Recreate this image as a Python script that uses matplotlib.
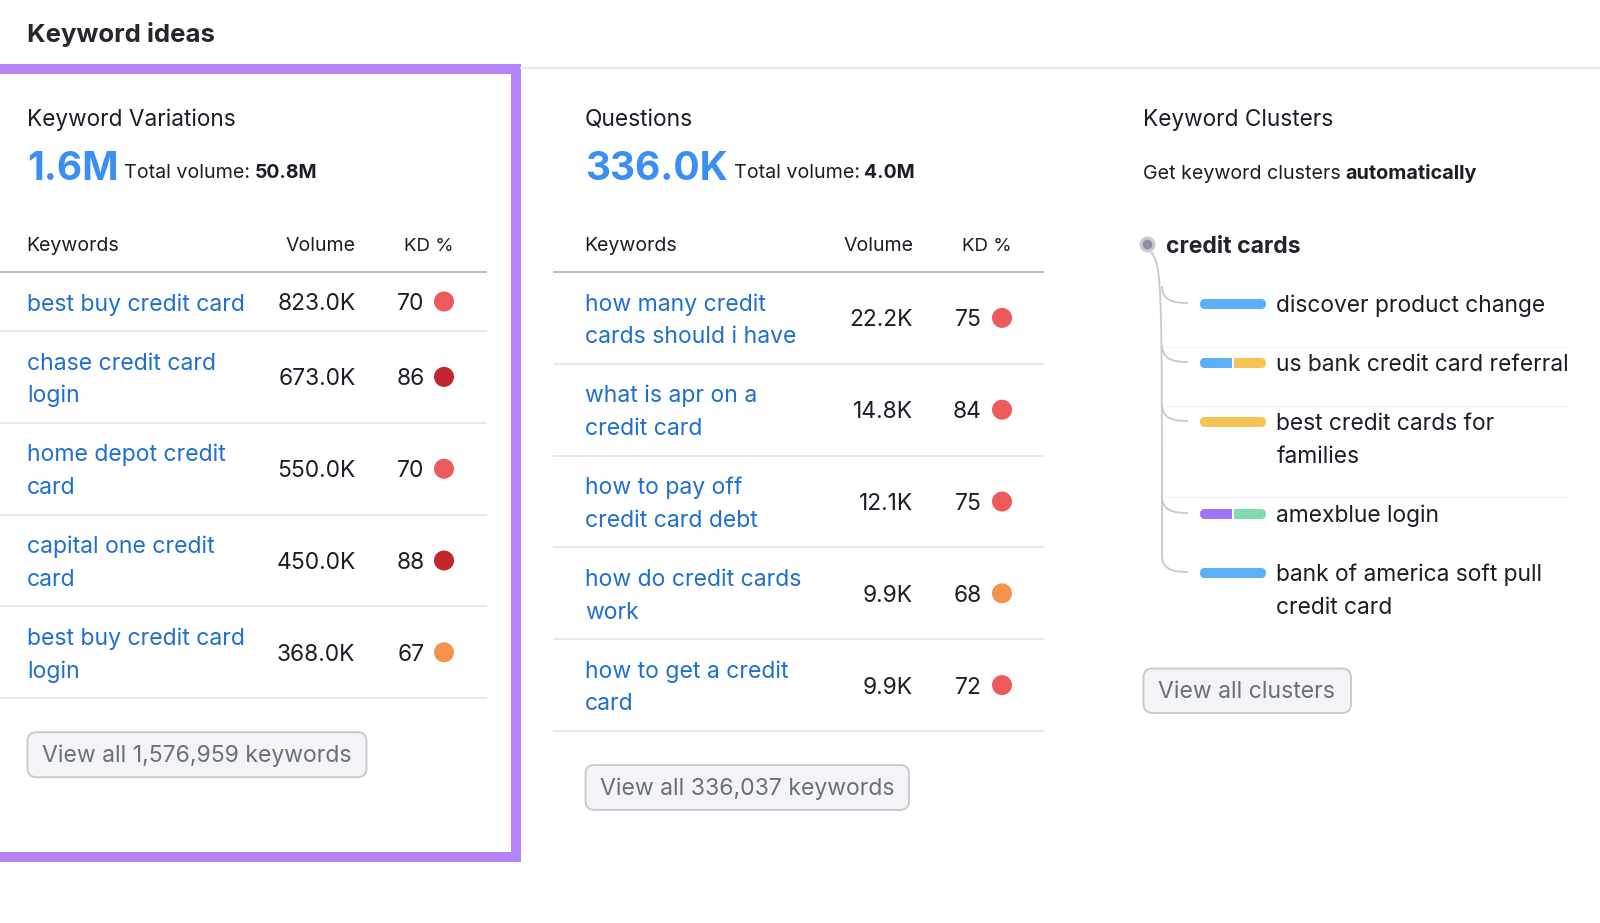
import matplotlib
matplotlib.use("Agg")
import matplotlib.pyplot as plt
from matplotlib.patches import FancyBboxPatch, Rectangle, Circle, PathPatch
from matplotlib.path import Path

plt.rcParams['font.family'] = ['Inter', 'DejaVu Sans']

# left column
variation_keywords = ["best buy credit card", "chase credit card\nlogin", "home depot credit\ncard",
                      "capital one credit\ncard", "best buy credit card\nlogin"]
variation_volumes = ["823.0K", "673.0K", "550.0K", "450.0K", "368.0K"]
variation_kd = [70, 86, 70, 88, 67]

# middle column
question_keywords = ["how many credit\ncards should i have", "what is apr on a\ncredit card",
                     "how to pay off\ncredit card debt", "how do credit cards\nwork",
                     "how to get a credit\ncard"]
question_volumes = ["22.2K", "14.8K", "12.1K", "9.9K", "9.9K"]
question_kd = [75, 84, 75, 68, 72]

# right column
cluster_names = ["discover product change", "us bank credit card referral", "best credit cards for\nfamilies",
                 "amexblue login", "bank of america soft pull\ncredit card"]
cluster_intents = [["info"], ["info", "trans"], ["trans"], ["nav", "comm"], ["info"]]

BLACK = "#1c1e26"
LINK = "#1f6fd0"
BLUE = "#3b8ff3"
GREY = "#6c6e79"
LINE = "#e6e7ee"
PURPLE = "#b383f7"
INTENT_COLORS = {"info": "#5cb0fa", "trans": "#f5c454", "nav": "#a274f5", "comm": "#80dcae"}
BODY = 22.8


def px(size):
    return size * 72 / 100


def kd_color(kd):
    if kd >= 85:
        return "#c2272f"
    if kd >= 70:
        return "#ee5a5c"
    return "#f3934c"


def button(ax, x0, y0, x1, y1, label):
    ax.add_patch(FancyBboxPatch((x0 + 8, y0 + 8), x1 - x0 - 16, y1 - y0 - 16,
                                boxstyle="round,pad=8,rounding_size=9",
                                fc="#f3f4f6", ec="#c6c8d2", lw=1.3))
    ax.text(x0 + 15, (y0 + y1) / 2 + 7.5, label, fontsize=px(23), color=GREY, va="baseline")


def keyword_table(ax, x0, line_x0, line_x1, vol_x, kd_x, dot_x, head_x, keywords, volumes, kds, button_label, button_x1):
    ax.text(x0 - 0.5, 251, "Keywords", fontsize=px(19.5), color=BLACK)
    ax.text(vol_x, 251, "Volume", fontsize=px(19.5), color=BLACK, ha="right")
    ax.text(head_x, 251, "KD %", fontsize=px(18.7), color=BLACK, ha="right")
    ax.plot([line_x0, line_x1], [271.8, 271.8], color="#b4b6c0", lw=1.3, solid_capstyle="butt")
    top = 272
    for name, vol, kd in zip(keywords, volumes, kds):
        lines = name.split("\n")
        height = 59 if len(lines) == 1 else 91.8
        mid = top + height / 2
        for i, line in enumerate(lines):
            ty = mid + (i - (len(lines) - 1) / 2) * 32.6
            ax.text(x0, ty + 9, line, fontsize=px(23), color=LINK)
        ax.text(vol_x, mid + 8.5, vol, fontsize=px(BODY), color=BLACK, ha="right")
        ax.text(kd_x, mid + 8.5, str(kd), fontsize=px(BODY), color=BLACK, ha="right")
        ax.add_patch(Circle((dot_x, mid), 10, fc=kd_color(kd), ec="none"))
        top += height
        ax.plot([line_x0, line_x1], [top, top], color=LINE, lw=1.3, solid_capstyle="butt")
    button(ax, x0 + 0.5, top + 34, button_x1, top + 79, button_label)


def intent_bar(ax, y, intents):
    x0, x1 = 1200, 1266
    clip = FancyBboxPatch((x0 + 5, y - 0), x1 - x0 - 10, 0.01, boxstyle="round,pad=5,rounding_size=5",
                          fc="none", ec="none")
    ax.add_patch(clip)
    w = (x1 - x0 - 1.5 * (len(intents) - 1)) / len(intents)
    for i, intent in enumerate(intents):
        seg = Rectangle((x0 + i * (w + 1.5), y - 5), w, 10, fc=INTENT_COLORS[intent], ec="none")
        ax.add_patch(seg)
        seg.set_clip_path(clip)


def clusters(ax):
    ax.text(1143, 126, "Keyword Clusters", fontsize=px(22.6), color=BLACK)
    ax.text(1143, 179, "Get keyword clusters", fontsize=px(19.6), color=BLACK)
    ax.text(1345, 179, "automatically", fontsize=px(19.8), color=BLACK, fontweight="bold")
    ax.add_patch(Circle((1147.5, 244.5), 8, fc="#c9cad4", ec="none"))
    ax.add_patch(Circle((1147.5, 244.5), 4.8, fc="#8d8f9e", ec="none"))
    ax.text(1166, 253, "credit cards", fontsize=px(23), color="#22242c", fontweight="bold")

    tree_color = "#c6c8d2"
    ys = [304, 363, 422, 514, 573]
    ax.add_patch(PathPatch(Path([(1151, 252), (1162, 265), (1162, 285), (1162, ys[-1] - 18)],
                                [Path.MOVETO, Path.CURVE4, Path.CURVE4, Path.CURVE4]),
                           fc="none", ec=tree_color, lw=1.3))
    for y, name, intents in zip(ys, cluster_names, cluster_intents):
        ax.add_patch(PathPatch(Path([(1162, y - 18), (1162, y - 4), (1172, y - 1), (1188, y - 1)],
                                    [Path.MOVETO, Path.CURVE4, Path.CURVE4, Path.CURVE4]),
                               fc="none", ec=tree_color, lw=1.3))
        intent_bar(ax, y, intents)
        for i, line in enumerate(name.split("\n")):
            ax.text(1276.5, y + 8 + i * 32.6, line, fontsize=px(BODY), color=BLACK)
    for y in [346.5, 405.5, 497]:
        ax.plot([1165, 1569], [y, y], color="#f3f3f6", lw=1, solid_capstyle="butt")
    button(ax, 1143.5, 668.5, 1351, 713, "View all clusters")


fig = plt.figure(figsize=(16, 9.23), dpi=100)
ax = fig.add_axes([0, 0, 1, 1])
ax.set_xlim(0, 1600)
ax.set_ylim(923, 0)
ax.axis("off")

ax.text(27, 42, "Keyword ideas", fontsize=px(25.8), color="#25272e", fontweight="bold")
ax.plot([520, 1600], [68, 68], color=LINE, lw=1.3, solid_capstyle="butt")

# purple highlight box
ax.add_patch(Rectangle((0, 64), 520.5, 10, fc=PURPLE, ec="none"))
ax.add_patch(Rectangle((511, 64), 9.5, 798, fc=PURPLE, ec="none"))
ax.add_patch(Rectangle((0, 851.5), 520.5, 10, fc=PURPLE, ec="none"))

# column headers
ax.text(27, 126, "Keyword Variations", fontsize=px(22.6), color=BLACK)
ax.text(27, 180, "1.6M", fontsize=px(39), color=BLUE, fontweight="bold")
ax.text(124.5, 178.5, "Total volume:", fontsize=px(19.7), color=BLACK)
ax.text(255, 178.5, "50.8M", fontsize=px(19.4), color=BLACK, fontweight="bold")

ax.text(585, 126, "Questions", fontsize=px(22.8), color=BLACK)
ax.text(585, 180, "336.0K", fontsize=px(39), color=BLUE, fontweight="bold")
ax.text(733.5, 178.5, "Total volume:", fontsize=px(19.7), color=BLACK)
ax.text(864, 178.5, "4.0M", fontsize=px(19.4), color=BLACK, fontweight="bold")

keyword_table(ax, 27, 0, 487, 355.5, 424.5, 444, 453.5, variation_keywords, variation_volumes, variation_kd,
              "View all 1,576,959 keywords", 366.5)
keyword_table(ax, 585, 552.5, 1044, 913, 982, 1002, 1011.5, question_keywords, question_volumes, question_kd,
              "View all 336,037 keywords", 909)
clusters(ax)

fig.savefig("out.png", dpi=100)
